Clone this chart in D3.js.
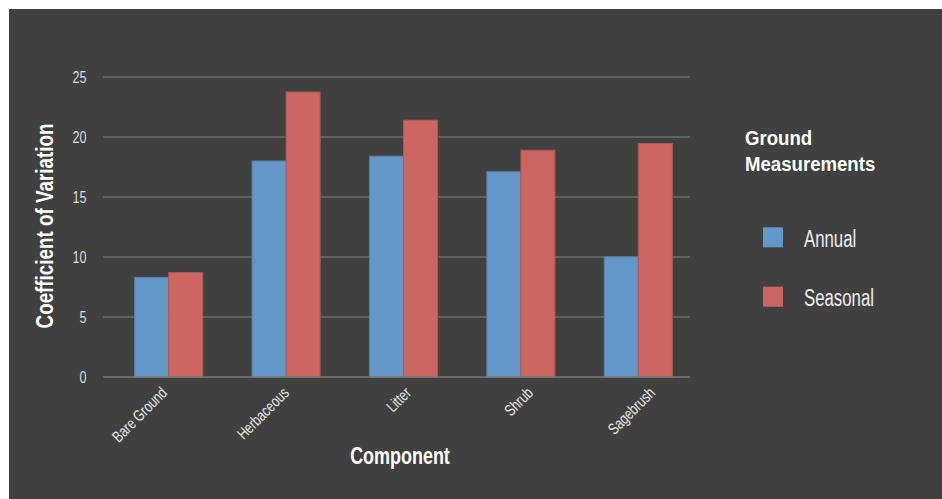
<!DOCTYPE html>
<html>
<head>
<meta charset="utf-8">
<script src="https://cdn.jsdelivr.net/npm/d3@7"></script>
<style>
  html, body { margin: 0; padding: 0; background: #ffffff; }
  svg { display: block; }
</style>
</head>
<body>
<svg id="chart" width="942" height="499"></svg>
<script>
// Coefficient of variation for each ground-cover component
const categories = ["Bare Ground", "Herbaceous", "Litter", "Shrub", "Sagebrush"];
const annualValues = [8.3, 18.0, 18.4, 17.1, 10.0];
const seasonalValues = [8.7, 23.75, 21.4, 18.9, 19.45];
const seriesNames = ["Annual", "Seasonal"];
const yTicks = [0, 5, 10, 15, 20, 25];

const colors = { Annual: "#6398c9", Seasonal: "#cc6661" };
const strokes = { Annual: "#5a80a8", Seasonal: "#a85a56" };
const font = "'Liberation Sans', Arial, Helvetica, sans-serif";

// squeeze text horizontally to give it a condensed face
function condense(sel, factor) {
  sel.each(function () {
    const w = this.getComputedTextLength();
    d3.select(this)
      .attr("textLength", w * factor)
      .attr("lengthAdjust", "spacingAndGlyphs");
  });
  return sel;
}

const svg = d3.select("#chart");

// dark panel
svg.append("rect")
  .attr("x", 9).attr("y", 9)
  .attr("width", 933).attr("height", 490)
  .attr("fill", "#404040");

const plot = { left: 103, right: 690, top: 77, bottom: 377 };

const y = d3.scaleLinear().domain([0, 25]).range([plot.bottom, plot.top]);
const x0 = d3.scaleBand().domain(categories).range([plot.left + 7, plot.right + 7]).paddingInner(0.42).paddingOuter(0.21);
const x1 = d3.scaleBand().domain(seriesNames).range([0, x0.bandwidth()]);
// anchor points for the slanted category labels
const xLabel = d3.scalePoint().domain(categories).range([168, 656]);

// horizontal gridlines
svg.append("g")
  .selectAll("line")
  .data(yTicks.filter(d => d > 0))
  .join("line")
  .attr("x1", plot.left).attr("x2", plot.right)
  .attr("y1", d => y(d)).attr("y2", d => y(d))
  .attr("stroke", "#6c6c6c").attr("stroke-width", 1.5);

// y axis labels
const yAxis = d3.axisLeft(y).tickValues(yTicks).tickSize(0).tickPadding(0);
const yg = svg.append("g").attr("transform", `translate(${plot.left - 16.5},0)`).call(yAxis);
yg.select(".domain").remove();
yg.selectAll("text")
  .attr("fill", "#dcdcdc")
  .attr("font-family", font)
  .attr("font-size", 16.5)
  .attr("dy", "0.36em")
  .call(condense, 0.76);

// bars
const rows = categories.map((c, i) => ({ cat: c, Annual: annualValues[i], Seasonal: seasonalValues[i] }));
const groups = svg.append("g")
  .selectAll("g")
  .data(rows)
  .join("g")
  .attr("transform", d => `translate(${x0(d.cat)},0)`);

groups.selectAll("rect")
  .data(d => seriesNames.map(s => ({ s, v: d[s] })))
  .join("rect")
  .attr("x", d => x1(d.s))
  .attr("y", d => y(d.v))
  .attr("width", x1.bandwidth())
  .attr("height", d => y(0) - y(d.v))
  .attr("fill", d => colors[d.s])
  .attr("stroke", d => strokes[d.s])
  .attr("stroke-width", 1);

// x axis baseline
svg.append("line")
  .attr("x1", plot.left).attr("x2", plot.right)
  .attr("y1", plot.bottom).attr("y2", plot.bottom)
  .attr("stroke", "#7a7a7a").attr("stroke-width", 1.5);

// slanted category labels
svg.append("g")
  .selectAll("text")
  .data(categories)
  .join("text")
  .attr("transform", d => `translate(${xLabel(d)},394) rotate(-45)`)
  .attr("text-anchor", "end")
  .attr("fill", "#e6e6e6")
  .attr("font-family", font)
  .attr("font-size", 16)
  .text(d => d)
  .call(condense, 0.76);

// axis titles
svg.append("text")
  .attr("transform", `translate(52.5,226) rotate(-90)`)
  .attr("text-anchor", "middle")
  .attr("fill", "#ffffff")
  .attr("font-family", font)
  .attr("font-weight", "bold")
  .attr("font-size", 24)
  .text("Coefficient of Variation")
  .call(condense, 0.784);

svg.append("text")
  .attr("x", 400).attr("y", 464)
  .attr("text-anchor", "middle")
  .attr("fill", "#ffffff")
  .attr("font-family", font)
  .attr("font-weight", "bold")
  .attr("font-size", 23)
  .text("Component")
  .call(condense, 0.78);

// legend
const legend = svg.append("g");
legend.selectAll("text.title")
  .data(["Ground", "Measurements"])
  .join("text")
  .attr("class", "title")
  .attr("x", 745)
  .attr("y", (d, i) => 145 + i * 26)
  .attr("fill", "#ffffff")
  .attr("font-family", font)
  .attr("font-weight", "bold")
  .attr("font-size", 20)
  .text(d => d)
  .call(condense, 0.93);

const items = legend.selectAll("g.item")
  .data(seriesNames)
  .join("g")
  .attr("class", "item")
  .attr("transform", (d, i) => `translate(763,${227.3 + i * 59.4})`);
items.append("rect")
  .attr("width", 20).attr("height", 20)
  .attr("fill", d => colors[d]);
items.append("text")
  .attr("x", 41).attr("y", 19.4)
  .attr("fill", "#eeeeee")
  .attr("font-family", font)
  .attr("font-size", 23)
  .text(d => d)
  .call(condense, 0.73);
</script>
</body>
</html>
